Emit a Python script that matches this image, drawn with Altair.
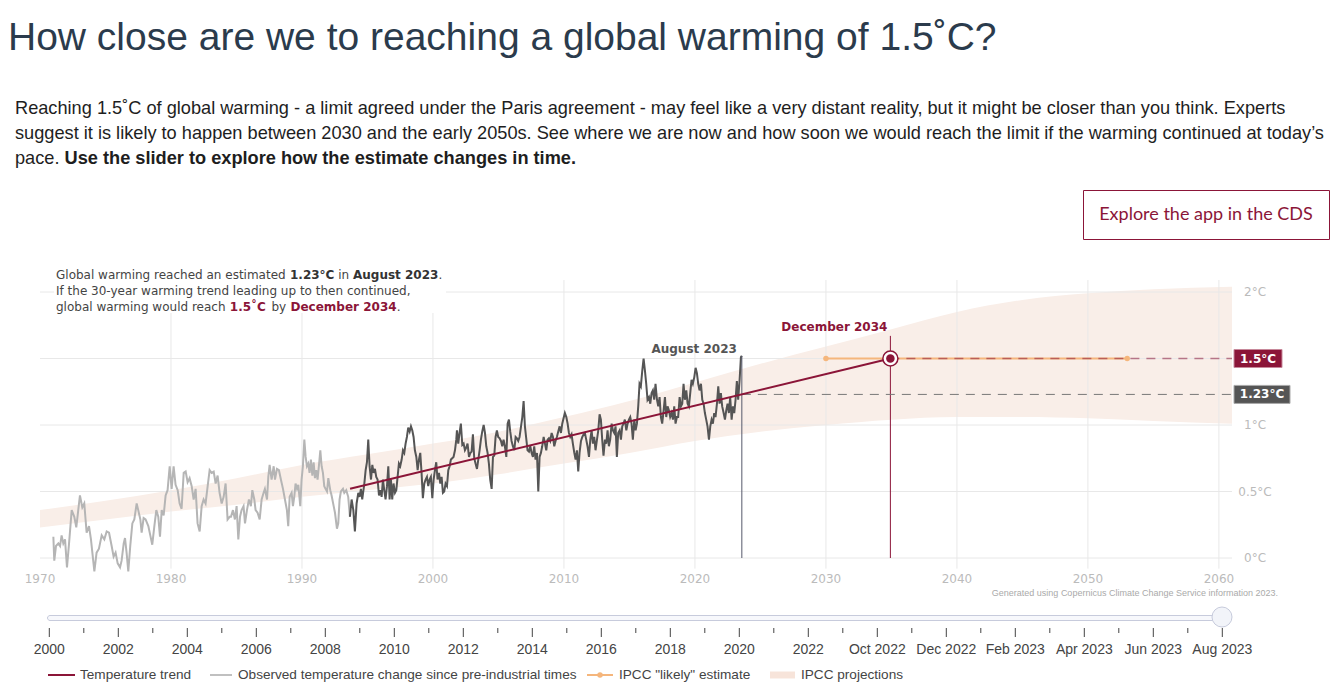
import altair as alt
import pandas as pd

# ---------------- data ----------------
obs_year = [
    1971.02, 1971.09, 1971.22, 1971.40, 1971.53, 1971.65, 1971.78, 1971.91, 1972.06, 1972.21,
    1972.42, 1972.62, 1972.77, 1972.92, 1973.05, 1973.23, 1973.38, 1973.56, 1973.74, 1973.89,
    1974.02, 1974.15, 1974.32, 1974.50, 1974.71, 1974.91, 1975.09, 1975.27, 1975.47, 1975.62,
    1975.77, 1975.93, 1976.11, 1976.23, 1976.39, 1976.49, 1976.61, 1976.74, 1976.89, 1977.05,
    1977.20, 1977.38, 1977.50, 1977.66, 1977.76, 1977.91, 1978.06, 1978.27, 1978.42, 1978.57,
    1978.73, 1978.88, 1979.03, 1979.16, 1979.29, 1979.44, 1979.59, 1979.74, 1979.90, 1980.05,
    1980.20, 1980.35, 1980.51, 1980.66, 1980.81, 1980.97, 1981.12, 1981.27, 1981.42, 1981.58,
    1981.73, 1981.88, 1982.03, 1982.19, 1982.34, 1982.49, 1982.64, 1982.80, 1982.95, 1983.10,
    1983.26, 1983.41, 1983.56, 1983.71, 1983.87, 1984.02, 1984.17, 1984.32, 1984.48,
    1984.58, 1984.73, 1984.88, 1985.01, 1985.14, 1985.27, 1985.39, 1985.54, 1985.65, 1985.80,
    1985.95, 1986.10, 1986.21, 1986.36, 1986.46, 1986.61, 1986.77, 1986.92, 1987.07, 1987.17,
    1987.33, 1987.43, 1987.53, 1987.68, 1987.84, 1987.94, 1988.09, 1988.24, 1988.39, 1988.55,
    1988.70, 1988.85, 1988.95, 1989.06, 1989.21, 1989.31, 1989.41, 1989.51, 1989.62, 1989.72,
    1989.87, 1989.97, 1990.07, 1990.18, 1990.28, 1990.38, 1990.48, 1990.58, 1990.68, 1990.79,
    1990.89, 1990.99, 1991.09, 1991.19, 1991.30, 1991.40, 1991.50, 1991.60, 1991.70, 1991.80,
    1991.91, 1992.01, 1992.16, 1992.26, 1992.42, 1992.52, 1992.67, 1992.77, 1992.87, 1992.97,
    1993.13, 1993.23, 1993.38, 1993.53, 1993.66,
    1993.79, 1993.92, 1994.04, 1994.17, 1994.30, 1994.40, 1994.50, 1994.60, 1994.76, 1994.86,
    1994.96, 1995.06, 1995.16, 1995.27, 1995.37, 1995.47, 1995.57, 1995.67, 1995.77, 1995.88,
    1995.98, 1996.08, 1996.18, 1996.28, 1996.38, 1996.49, 1996.59, 1996.69, 1996.79, 1996.89,
    1996.99, 1997.10, 1997.20, 1997.30, 1997.40, 1997.50, 1997.61, 1997.71, 1997.81, 1997.91,
    1998.01, 1998.11, 1998.22,
    1998.32, 1998.42, 1998.52, 1998.62, 1998.73, 1998.83, 1998.93, 1999.03, 1999.13, 1999.23,
    1999.34, 1999.44, 1999.54, 1999.64, 1999.74, 1999.84, 1999.95, 2000.05, 2000.15, 2000.25,
    2000.35, 2000.46, 2000.56, 2000.66, 2000.76, 2000.86, 2000.96, 2001.07, 2001.17, 2001.27,
    2001.37, 2001.47, 2001.57, 2001.68, 2001.78, 2001.83, 2001.93, 2002.03, 2002.13, 2002.24,
    2002.34, 2002.44, 2002.54, 2002.64, 2002.75, 2002.85, 2002.95, 2003.05, 2003.15, 2003.25,
    2003.36, 2003.46, 2003.56, 2003.66, 2003.76, 2003.87, 2003.97, 2004.07, 2004.17, 2004.27,
    2004.37, 2004.48, 2004.58, 2004.68, 2004.78, 2004.88, 2004.98, 2005.09, 2005.19, 2005.29,
    2005.39, 2005.49, 2005.60, 2005.70, 2005.80, 2005.90, 2006.00, 2006.10, 2006.21, 2006.31,
    2006.41, 2006.51, 2006.61, 2006.71, 2006.82, 2006.92, 2007.02, 2007.12, 2007.22, 2007.33,
    2007.43, 2007.53, 2007.63, 2007.73, 2007.83, 2007.94, 2008.04, 2008.14, 2008.24, 2008.34,
    2008.45, 2008.55, 2008.65, 2008.75, 2008.85, 2008.95, 2009.06, 2009.16, 2009.26, 2009.36,
    2009.46, 2009.56, 2009.67, 2009.77, 2009.87, 2009.97, 2010.07, 2010.18, 2010.28, 2010.38,
    2010.48, 2010.58, 2010.68, 2010.79, 2010.89, 2010.99, 2011.09, 2011.19, 2011.30, 2011.40,
    2011.50, 2011.60, 2011.70, 2011.80, 2011.91,
    2012.01, 2012.11, 2012.21, 2012.31, 2012.41, 2012.52, 2012.62, 2012.72, 2012.82, 2012.92,
    2013.02, 2013.13, 2013.23, 2013.33, 2013.43, 2013.53, 2013.64, 2013.74, 2013.84, 2013.94,
    2014.04, 2014.14, 2014.25, 2014.35, 2014.45, 2014.55, 2014.65, 2014.76, 2014.86, 2014.96,
    2015.06, 2015.16, 2015.26, 2015.37, 2015.47, 2015.57, 2015.67, 2015.77, 2015.87, 2015.98,
    2016.08, 2016.18, 2016.28, 2016.38, 2016.49, 2016.59, 2016.69, 2016.79, 2016.89, 2016.99,
    2017.10, 2017.20, 2017.30, 2017.40, 2017.50, 2017.61, 2017.71, 2017.81, 2017.91, 2018.01,
    2018.11, 2018.22, 2018.32, 2018.42, 2018.52, 2018.62, 2018.72, 2018.83, 2018.93, 2019.03,
    2019.13, 2019.23, 2019.34, 2019.44, 2019.54, 2019.64, 2019.74, 2019.84, 2019.95, 2020.05,
    2020.15, 2020.25, 2020.35, 2020.46, 2020.56, 2020.66, 2020.76, 2020.86, 2020.96, 2021.07,
    2021.17, 2021.27, 2021.37, 2021.47, 2021.57, 2021.68, 2021.78, 2021.88, 2021.98, 2022.08,
    2022.19, 2022.29, 2022.39, 2022.49, 2022.59, 2022.69, 2022.80, 2022.90, 2023.00, 2023.10,
    2023.20, 2023.30, 2023.41, 2023.51, 2023.58,
]
obs_value = [
    0.16, -0.02, 0.09, 0.11, 0.09, 0.17, 0.11, 0.14, -0.07, 0.10,
    0.36, 0.31, 0.23, 0.36, 0.47, 0.38, 0.41, 0.19, 0.24, 0.14,
    0.02, -0.10, 0.04, 0.07, 0.17, 0.14, 0.20, 0.19, 0.09, 0.01,
    0.04, -0.04, -0.07, -0.02, 0.11, 0.15, 0.04, -0.10, 0.09, 0.26,
    0.29, 0.41, 0.36, 0.29, 0.19, 0.30, 0.29, 0.24, 0.17, 0.10,
    0.24, 0.36, 0.31, 0.16, 0.36, 0.32, 0.47, 0.51, 0.69, 0.52,
    0.69, 0.55, 0.51, 0.41, 0.37, 0.64, 0.65, 0.57, 0.60, 0.54,
    0.44, 0.52, 0.26, 0.20, 0.39, 0.44, 0.41, 0.54, 0.66, 0.64,
    0.65, 0.56, 0.62, 0.49, 0.41, 0.46, 0.56, 0.29, 0.31,
    0.31, 0.36, 0.29, 0.39, 0.14, 0.31, 0.36, 0.39, 0.26, 0.36,
    0.44, 0.39, 0.51, 0.44, 0.36, 0.34, 0.29, 0.44, 0.49, 0.52,
    0.44, 0.61, 0.70, 0.59, 0.69, 0.59, 0.67, 0.66, 0.59, 0.52,
    0.44, 0.36, 0.24, 0.46, 0.49, 0.39, 0.46, 0.56, 0.52, 0.55,
    0.39, 0.59, 0.69, 0.89, 0.76, 0.69, 0.71, 0.64, 0.74, 0.62,
    0.72, 0.60, 0.66, 0.59, 0.70, 0.81, 0.69, 0.64, 0.54, 0.52,
    0.50, 0.60, 0.51, 0.47, 0.39, 0.34, 0.22, 0.26, 0.44, 0.50,
    0.52, 0.49, 0.51, 0.46, 0.31,
    0.44, 0.36, 0.20, 0.41, 0.49, 0.46, 0.52, 0.44, 0.56, 0.66,
    0.72, 0.89, 0.69, 0.59, 0.70, 0.64, 0.67, 0.61, 0.59, 0.47,
    0.51, 0.46, 0.59, 0.51, 0.44, 0.54, 0.69, 0.44, 0.59, 0.44,
    0.56, 0.49, 0.51, 0.61, 0.71, 0.69, 0.74, 0.81, 0.79, 0.86,
    0.91, 0.98, 0.95,
    0.99, 0.96, 0.91, 0.81, 0.76, 0.66, 0.74, 0.79, 0.64, 0.45,
    0.56, 0.59, 0.61, 0.54, 0.59, 0.61, 0.45, 0.59, 0.66, 0.72,
    0.59, 0.64, 0.56, 0.61, 0.49, 0.50, 0.56, 0.54, 0.66, 0.69,
    0.74, 0.75, 0.76, 0.81, 0.89, 0.96, 0.86, 0.94, 1.01, 0.85,
    0.86, 0.81, 0.83, 0.86, 0.76, 0.79, 0.80, 0.93, 0.75, 0.71,
    0.67, 0.74, 0.81, 0.89, 0.95, 1.00, 0.94, 0.84, 0.79, 0.71,
    0.59, 0.52, 0.76, 0.77, 0.91, 0.96, 0.91, 0.90, 0.88, 0.84,
    0.89, 0.84, 0.76, 1.01, 1.04, 0.95, 0.88, 0.84, 0.81, 0.91,
    0.90, 0.88, 0.91, 0.98, 1.06, 1.18, 0.99, 0.90, 0.81, 0.80,
    0.84, 0.79, 0.76, 0.84, 0.74, 0.79, 0.50, 0.76, 0.79, 0.84,
    0.91, 0.86, 0.81, 0.89, 0.90, 0.88, 0.94, 0.91, 0.84, 0.88,
    0.91, 0.95, 0.99, 0.94, 1.01, 1.05, 1.09, 1.06, 1.01, 0.94,
    0.91, 0.93, 0.86, 0.79, 0.74, 0.81, 0.65, 0.79, 0.88, 0.91,
    0.93, 0.94, 0.89, 0.84, 0.76,
    0.89, 0.96, 0.86, 0.91, 0.81, 0.89, 0.96, 1.08, 1.04, 0.89,
    0.77, 0.89, 0.86, 0.96, 0.84, 0.89, 1.01, 0.96, 0.94, 0.99,
    0.76, 0.94, 0.96, 0.89, 0.99, 1.01, 1.04, 0.96, 1.01, 1.04,
    1.06, 1.01, 0.89, 1.04, 0.96, 1.01, 1.14, 1.31, 1.29, 1.41,
    1.50, 1.41, 1.31, 1.19, 1.21, 1.16, 1.24, 1.26, 1.19, 1.31,
    1.19, 1.14, 1.21, 1.06, 1.01, 1.11, 1.21, 1.06, 1.14, 1.11,
    1.06, 1.09, 1.04, 1.14, 1.01, 1.06, 1.06, 1.21, 1.14, 1.16,
    1.31, 1.19, 1.26, 1.16, 1.14, 1.24, 1.34, 1.31, 1.36, 1.43,
    1.39, 1.31, 1.26, 1.31, 1.19, 1.16, 1.09, 1.04, 0.99, 0.89,
    0.99, 1.04, 1.01, 1.09, 1.06, 1.16, 1.29, 1.16, 1.24, 1.14,
    1.09, 1.04, 1.11, 1.16, 1.09, 1.21, 1.04, 1.14, 1.09, 1.19,
    1.33, 1.19, 1.34, 1.51, 1.52,
]

trend_start_year = 1993.66          # start of the 30-year window (dark line)
trend_year = [1993.67, 2034.92]
trend_value = [0.52, 1.50]

aug_year = 2023.58                   # August 2023
aug_peak = 1.52
estimate_now = 1.23
dec_year = 2034.92                   # December 2034
target = 1.5
dec_rule_top = 1.67
axis_end_year = 2061

likely_year = [2030, 2053]
likely_value = [1.5, 1.5]

band_year = [1970, 1975, 1980, 1985, 1990, 1995, 2000, 2005, 2010, 2015,
             2020, 2025, 2030, 2035, 2040, 2045, 2050, 2055, 2061]
band_lo = [0.23, 0.29, 0.35, 0.40, 0.46, 0.51, 0.56, 0.63, 0.71, 0.79,
           0.88, 0.95, 1.00, 1.04, 1.06, 1.06, 1.05, 1.03, 1.01]
band_hi = [0.36, 0.43, 0.51, 0.60, 0.70, 0.78, 0.86, 0.95, 1.06, 1.18,
           1.32, 1.46, 1.59, 1.72, 1.85, 1.94, 1.99, 2.02, 2.04]

x_tick_years = [1970, 1980, 1990, 2000, 2010, 2020, 2030, 2040, 2050, 2060]
grid_x_years = [1980, 1990, 2000, 2010, 2020, 2030, 2040, 2050, 2060]
grid_y_values = [0, 0.5, 1, 1.5, 2]
y_tick_values = [0, 0.5, 1, 2]
y_tick_labels = ["0°C", "0.5°C", "1°C", "2°C"]

slider_major = ["2000", "2002", "2004", "2006", "2008", "2010", "2012", "2014", "2016",
                "2018", "2020", "2022", "Oct 2022", "Dec 2022", "Feb 2023", "Apr 2023",
                "Jun 2023", "Aug 2023"]
slider_minor = ["2001", "2003", "2005", "2007", "2009", "2011", "2013", "2015", "2017",
                "2019", "2021", "Jun 2022", "Nov 2022", "Jan 2023", "Mar 2023", "May 2023",
                "Jul 2023"]

# ---------------- styles ----------------
DARK_RED = "#8b1538"
DARK_GRAY = "#555555"
LIGHT_GRAY = "#b5b5b5"
ORANGE = "#f5b67c"
BAND = "#f9eee8"
GRID = "#e8e8e8"
AXIS_TXT = "#bbbbbb"
W, H = 1323, 678

XS = alt.Scale(domain=[1970, 2061], range=[32, 1224], nice=False, zero=False)
YS = alt.Scale(domain=[0, 2], range=[550, 284], nice=False, zero=False)
SL_MAJ = alt.Scale(type="point", domain=slider_major, range=[41.3, 1214.3], padding=0)
SL_MIN = alt.Scale(type="point", domain=slider_minor, range=[75.8, 1179.8], padding=0)


def X(f):
    return alt.X(f, type="quantitative", scale=XS, axis=None)


def Y(f):
    return alt.Y(f, type="quantitative", scale=YS, axis=None)


ONE = pd.DataFrame({"k": [0]})


def text(x, y, s, size=12, color="#444444", font="DejaVu Sans", weight="normal",
         align="left", baseline="alphabetic"):
    return alt.Chart(ONE).mark_text(
        align=align, baseline=baseline, font=font, fontSize=size,
        fontWeight=weight, color=color
    ).encode(x=alt.value(x), y=alt.value(y), text=alt.value(s))


def vrule(x1, x2, y, color, width=2, dash=None):
    kw = dict(color=color, strokeWidth=width)
    if dash:
        kw["strokeDash"] = dash
    return alt.Chart(ONE).mark_rule(**kw).encode(
        x=alt.value(x1), x2=alt.value(x2), y=alt.value(y))


# ---------------- tables ----------------
obs = pd.DataFrame({"year": obs_year, "v": obs_value})
obs_light = obs[obs["year"] <= trend_start_year]
obs_dark = obs[obs["year"] >= trend_start_year]
band = pd.DataFrame({"year": band_year, "lo": band_lo, "hi": band_hi})
trend = pd.DataFrame({"year": trend_year, "v": trend_value})
likely = pd.DataFrame({"year": likely_year, "v": likely_value})
gx = pd.DataFrame({"year": grid_x_years, "lo": [-0.08] * len(grid_x_years),
                   "hi": [2.09] * len(grid_x_years)})
gy = pd.DataFrame({"v": grid_y_values, "x0": [1970] * len(grid_y_values),
                   "x1": [axis_end_year] * len(grid_y_values)})
aug = pd.DataFrame({"year": [aug_year], "lo": [0], "hi": [aug_peak],
                    "t": ["August 2023"], "est": [estimate_now], "end": [axis_end_year]})
dec = pd.DataFrame({"year": [dec_year], "lo": [0], "hi": [dec_rule_top],
                    "t": ["December 2034"], "v": [target], "end": [axis_end_year]})
xt = pd.DataFrame({"year": x_tick_years, "t": [str(y) for y in x_tick_years]})
yt = pd.DataFrame({"v": y_tick_values, "t": y_tick_labels})
boxes15 = pd.DataFrame({"v": [target], "t": ["1.5°C"]})
boxes123 = pd.DataFrame({"v": [estimate_now], "t": ["1.23°C"]})
smaj = pd.DataFrame({"lab": slider_major})
smin = pd.DataFrame({"lab": slider_minor})

layers = []

# band
layers.append(alt.Chart(band).mark_area(color=BAND, opacity=1, interpolate="monotone").encode(
    x=X("year"), y=Y("lo"), y2="hi"))
# gridlines
layers.append(alt.Chart(gx).mark_rule(color=GRID, strokeWidth=1).encode(
    x=X("year"), y=Y("lo"), y2="hi"))
layers.append(alt.Chart(gy).mark_rule(color=GRID, strokeWidth=1).encode(
    x=X("x0"), x2="x1", y=Y("v")))
# white box behind annotation
layers.append(alt.Chart(ONE).mark_rect(color="white").encode(
    x=alt.value(46), x2=alt.value(438), y=alt.value(252), y2=alt.value(305)))
# observed lines
layers.append(alt.Chart(obs_light).mark_line(color=LIGHT_GRAY, strokeWidth=2).encode(
    x=X("year"), y=Y("v")))
layers.append(alt.Chart(obs_dark).mark_line(color=DARK_GRAY, strokeWidth=2).encode(
    x=X("year"), y=Y("v")))
# vertical rules
layers.append(alt.Chart(aug).mark_rule(color="#56596a", strokeWidth=1).encode(
    x=X("year"), y=Y("lo"), y2="hi"))
layers.append(alt.Chart(dec).mark_rule(color=DARK_RED, strokeWidth=1).encode(
    x=X("year"), y=Y("lo"), y2="hi"))
# IPCC likely
layers.append(alt.Chart(likely).mark_line(color=ORANGE, strokeWidth=2).encode(
    x=X("year"), y=Y("v")))
layers.append(alt.Chart(likely).mark_circle(color=ORANGE, size=30, opacity=1).encode(
    x=X("year"), y=Y("v")))
# dashed guides
layers.append(alt.Chart(aug).mark_rule(color="#777777", strokeWidth=1, strokeDash=[9, 7]).encode(
    x=X("year"), x2="end", y=Y("est")))
layers.append(alt.Chart(dec).mark_rule(color=DARK_RED, strokeWidth=1.5, strokeDash=[9, 7],
                                       opacity=0.55).encode(
    x=X("year"), x2="end", y=Y("v")))
# trend
layers.append(alt.Chart(trend).mark_line(color=DARK_RED, strokeWidth=2).encode(
    x=X("year"), y=Y("v")))
# target marker
layers.append(alt.Chart(dec).mark_circle(fill="white", stroke=DARK_RED, strokeWidth=1.5,
                                         size=225, opacity=1).encode(x=X("year"), y=Y("v")))
layers.append(alt.Chart(dec).mark_circle(color=DARK_RED, size=72, opacity=1).encode(
    x=X("year"), y=Y("v")))
# labels on the lines
layers.append(alt.Chart(aug).mark_text(align="right", baseline="alphabetic", dx=-5, dy=-3,
                                       font="DejaVu Sans", fontWeight="bold", fontSize=12,
                                       color=DARK_GRAY).encode(x=X("year"), y=Y("hi"), text="t"))
layers.append(alt.Chart(dec).mark_text(align="right", baseline="alphabetic", dx=-3, dy=-5,
                                       font="DejaVu Sans", fontWeight="bold", fontSize=12,
                                       color=DARK_RED).encode(x=X("year"), y=Y("hi"), text="t"))
# value boxes on the right
layers.append(alt.Chart(boxes15).mark_point(shape="M-1,-0.375H1V0.375H-1Z", size=2304, filled=True,
                                            fill=DARK_RED, stroke="#c7889a", strokeWidth=1,
                                            opacity=1).encode(x=alt.value(1250), y=Y("v")))
layers.append(alt.Chart(boxes15).mark_text(font="DejaVu Sans", fontWeight="bold", fontSize=12,
                                           color="white", baseline="middle").encode(
    x=alt.value(1250), y=Y("v"), text="t"))
layers.append(alt.Chart(boxes123).mark_point(shape="M-1,-0.3214H1V0.3214H-1Z", size=3136, filled=True,
                                             fill=DARK_GRAY, stroke="#aaaaaa", strokeWidth=1,
                                             opacity=1).encode(x=alt.value(1254), y=Y("v")))
layers.append(alt.Chart(boxes123).mark_text(font="DejaVu Sans", fontWeight="bold", fontSize=12,
                                            color="white", baseline="middle").encode(
    x=alt.value(1254), y=Y("v"), text="t"))
# axis labels
layers.append(alt.Chart(xt).mark_text(font="DejaVu Sans", fontSize=12, color=AXIS_TXT,
                                      baseline="middle").encode(
    x=X("year"), y=alt.value(571), text="t"))
layers.append(alt.Chart(yt).mark_text(font="DejaVu Sans", fontSize=12, color=AXIS_TXT,
                                      baseline="middle", align="center").encode(
    x=alt.value(1247), y=Y("v"), text="t"))

# annotation (top left of the plot)
layers += [
    text(48, 271, "Global warming reached an estimated"),
    text(282.0, 271, "1.23°C", color="#333333", weight="bold"),
    text(330.2, 271, "in"),
    text(345.0, 271, "August 2023", color="#333333", weight="bold"),
    text(430.4, 271, "."),
    text(48, 287, "If the 30-year warming trend leading up to then continued,"),
    text(48, 303, "global warming would reach"),
    text(221.8, 303, "1.5˚C", color=DARK_RED, weight="bold"),
    text(263.5, 303, "by"),
    text(282.5, 303, "December 2034", color=DARK_RED, weight="bold"),
    text(388.8, 303, "."),
]

# header
SANS = "Liberation Sans"
PARA = 18.2
layers += [
    text(0, 42, "How close are we to reaching a global warming of 1.5˚C?", size=39,
         color="#2b3b4c", font=SANS),
    text(7, 106, "Reaching 1.5˚C of global warming - a limit agreed under the Paris agreement - may "
                 "feel like a very distant reality, but it might be closer than you think. Experts",
         size=PARA, color="#1e1e1e", font=SANS),
    text(7, 131, "suggest it is likely to happen between 2030 and the early 2050s. See where we are "
                 "now and how soon we would reach the limit if the warming continued at today’s",
         size=PARA, color="#1e1e1e", font=SANS),
    text(7, 156, "pace.", size=PARA, color="#1e1e1e", font=SANS),
    text(56.6, 156, "Use the slider to explore how the estimate changes in time.", size=PARA,
         color="#1e1e1e", font=SANS, weight="bold"),
]
# button
layers.append(alt.Chart(ONE).mark_rect(fill="white", stroke=DARK_RED, strokeWidth=1).encode(
    x=alt.value(1075.5), x2=alt.value(1321.5), y=alt.value(182.5), y2=alt.value(231.5)))
layers.append(text(1198, 207, "Explore the app in the CDS", size=18, color=DARK_RED, font="Lato",
                   align="center", baseline="middle"))

# credit line
layers.append(text(1270, 585, "Generated using Copernicus Climate Change Service information 2023.",
                   size=9, color="#aaaaaa", font=SANS, align="right", baseline="middle"))

# slider
layers.append(alt.Chart(ONE).mark_rect(fill="#f7f8fc", stroke="#c7cbdc", strokeWidth=1,
                                       cornerRadius=2.5).encode(
    x=alt.value(39.5), x2=alt.value(1214), y=alt.value(607.5), y2=alt.value(612.5)))
layers.append(alt.Chart(ONE).mark_circle(fill="#f2f4f9", stroke="#c7cbdc", strokeWidth=1,
                                         size=400, opacity=1).encode(
    x=alt.value(1214), y=alt.value(609)))
layers.append(alt.Chart(smaj).mark_rule(color="#444444", strokeWidth=1).encode(
    x=alt.X("lab:N", scale=SL_MAJ, axis=None), y=alt.value(620), y2=alt.value(629)))
layers.append(alt.Chart(smin).mark_rule(color="#444444", strokeWidth=1).encode(
    x=alt.X("lab:N", scale=SL_MIN, axis=None), y=alt.value(620), y2=alt.value(625)))
layers.append(alt.Chart(smaj).mark_text(font=SANS, fontSize=14, color="#444444",
                                        baseline="middle").encode(
    x=alt.X("lab:N", scale=SL_MAJ, axis=None), y=alt.value(642), text="lab:N"))

# legend
LY = 667
LEG = 13.6
layers += [
    vrule(40, 67, LY, DARK_RED),
    text(72, LY, "Temperature trend", size=LEG, font=SANS, baseline="middle"),
    vrule(202, 224, LY, "#c0c0c0"),
    text(230, LY, "Observed temperature change since pre-industrial times", size=LEG, font=SANS,
         baseline="middle"),
    vrule(579, 605, LY, ORANGE),
    alt.Chart(ONE).mark_circle(color=ORANGE, size=30, opacity=1).encode(
        x=alt.value(592), y=alt.value(LY)),
    text(611, LY, 'IPCC "likely" estimate', size=LEG, font=SANS, baseline="middle"),
    vrule(762, 787, LY, "#f7e4da", width=7),
    text(793, LY, "IPCC projections", size=LEG, font=SANS, baseline="middle"),
]

chart = alt.layer(*layers).resolve_scale(x="independent", y="independent").properties(
    width=W, height=H, padding=0, autosize="none", background="white"
).configure_view(stroke=None)

chart.save("out.html", embed_options={"renderer": "svg", "actions": False})
